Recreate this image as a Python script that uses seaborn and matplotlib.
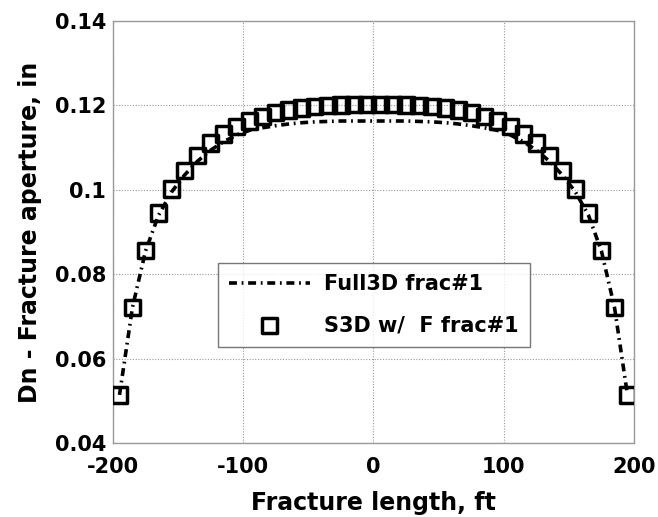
import numpy as np
import pandas as pd
import matplotlib
matplotlib.use("Agg")
import matplotlib.pyplot as plt
import seaborn as sns

# ---- data ----
half_x = [5, 15, 25, 35, 45, 55, 65, 75, 85, 95, 105, 115, 125, 135, 145, 155, 165, 175, 185, 195]
s3d_half = [0.1202, 0.1202, 0.1201, 0.1199, 0.1197, 0.1194, 0.1189, 0.1183, 0.1174, 0.1163,
            0.1150, 0.1132, 0.1111, 0.1082, 0.1045, 0.1002, 0.0945, 0.0857, 0.0722, 0.0514]
full_half = [0.1163, 0.1163, 0.1163, 0.1162, 0.1161, 0.1159, 0.1156, 0.1152, 0.1147, 0.1141,
             0.1130, 0.1114, 0.1094, 0.1068, 0.1035, 0.0995, 0.0940, 0.0855, 0.0722, 0.0514]

x_vals = [-v for v in half_x[::-1]] + half_x
s3d_vals = s3d_half[::-1] + s3d_half
full_vals = full_half[::-1] + full_half

x_ticks = [-200, -100, 0, 100, 200]
x_tick_labels = ["-200", "-100", "0", "100", "200"]
y_ticks = [0.04, 0.06, 0.08, 0.1, 0.12, 0.14]
y_tick_labels = ["0.04", "0.06", "0.08", "0.1", "0.12", "0.14"]

df = pd.DataFrame({"x": x_vals, "s3d": s3d_vals, "full": full_vals})

sns.set_theme(style="white")
plt.rcParams['font.family'] = ['DejaVu Sans']
plt.rcParams['font.weight'] = 'bold'
plt.rcParams['text.color'] = 'black'
plt.rcParams['axes.labelcolor'] = 'black'
plt.rcParams['xtick.color'] = 'black'
plt.rcParams['ytick.color'] = 'black'

fig = plt.figure(figsize=(6.58, 5.17), dpi=100)
ax = fig.add_axes([0.1717, 0.1431, 0.9635 - 0.1717, 0.9594 - 0.1431])

sns.lineplot(data=df, x="x", y="full", ax=ax, color="black",
             linewidth=2.6, label="Full3D frac#1", legend=False)
ax.lines[0].set_dashes([2.2, 1.3, 0.5, 1.3])
sns.scatterplot(data=df, x="x", y="s3d", ax=ax, marker="s", s=120,
                facecolors="none", edgecolor="black", linewidth=2.5,
                label="S3D w/  F frac#1", legend=False, zorder=3)

ax.set_xlim(-200, 200)
ax.set_ylim(0.04, 0.14)
ax.set_xticks(x_ticks)
ax.set_xticklabels(x_tick_labels)
ax.set_yticks(y_ticks)
ax.set_yticklabels(y_tick_labels)
ax.tick_params(axis="x", labelsize=15, length=0, pad=10, labelcolor="black")
ax.tick_params(axis="y", labelsize=15, length=0, pad=5, labelcolor="black")
for lab in ax.get_xticklabels() + ax.get_yticklabels():
    lab.set_fontweight("bold")

ax.grid(True, linestyle=(0, (1, 1.5)), color="#999999", linewidth=0.8)
for sp in ax.spines.values():
    sp.set_color("#999999")
    sp.set_linewidth(1.0)

ax.set_xlabel("Fracture length, ft", fontsize=17, fontweight="bold", labelpad=10, color="black")
ax.set_ylabel("Dn - Fracture aperture, in", fontsize=17, fontweight="bold", labelpad=9, color="black")

leg = ax.legend(loc="upper left", bbox_to_anchor=((218 - 113) / 521, (443 - 263) / 422),
                fontsize=15, frameon=True, fancybox=False, edgecolor="#555555",
                handlelength=3.85, labelspacing=1.0, borderpad=0.55, handletextpad=0.7,
                borderaxespad=0)
leg.get_frame().set_linewidth(1.0)
for t in leg.get_texts():
    t.set_fontweight("bold")
    t.set_color("black")

fig.savefig("out.png", dpi=100)
